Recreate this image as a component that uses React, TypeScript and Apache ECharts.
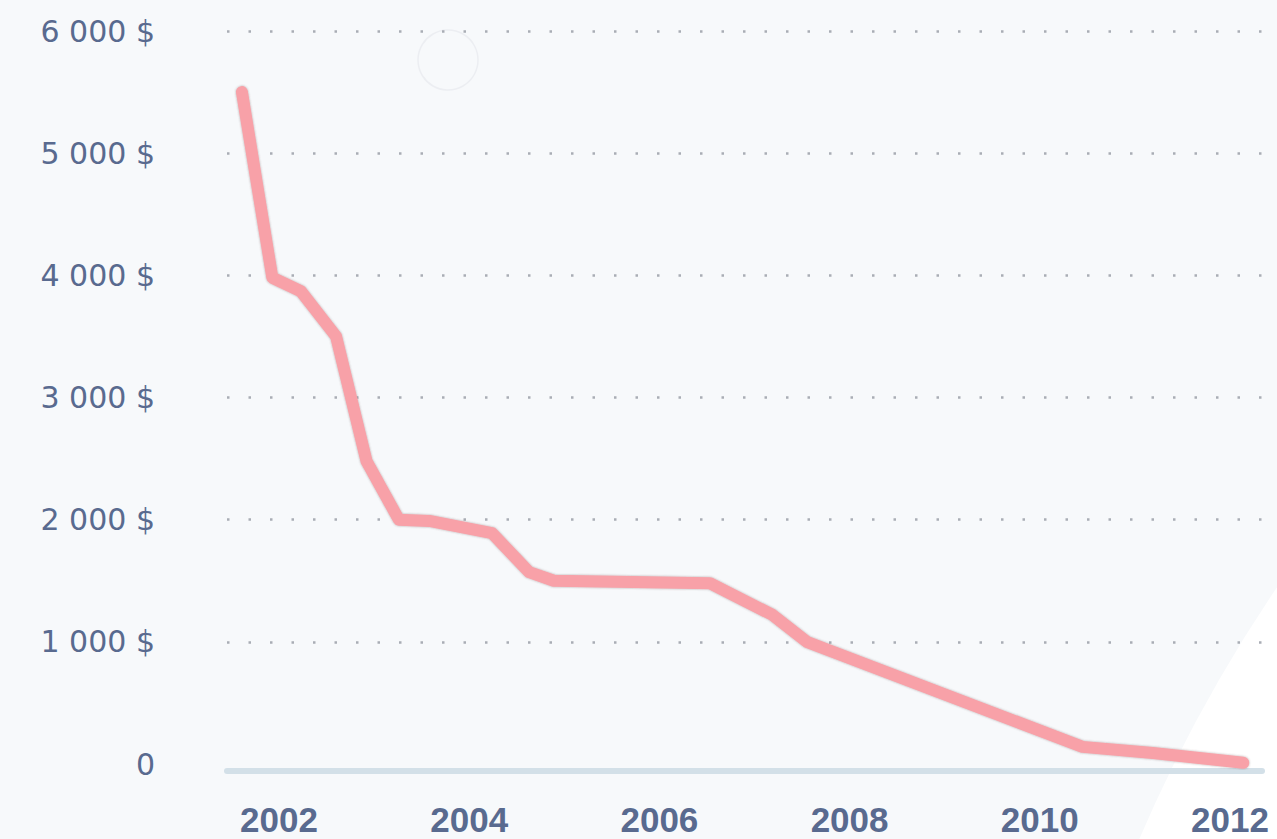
import React, { useEffect, useRef } from "react";
import * as echarts from "echarts";

// Data (fractional year, price in $)
const years = [2001.61, 2001.93, 2002.23, 2002.6, 2002.92, 2003.26, 2003.58, 2004.24, 2004.63, 2004.89, 2006.53, 2007.19, 2007.55, 2010.45, 2011.19, 2012.14];
const prices = [5500, 3980, 3870, 3500, 2480, 2000, 1990, 1890, 1570, 1500, 1480, 1220, 1000, 140, 90, 10];
const xTickYears = [2002, 2004, 2006, 2008, 2010, 2012];
const yTicks = [0, 1000, 2000, 3000, 4000, 5000, 6000];

const TEXT = "#596a8f";

export default function App() {
  const ref = useRef<HTMLDivElement>(null);
  useEffect(() => {
    if (!ref.current) return;
    const chart = echarts.init(ref.current, null, { renderer: "svg" });
    const data = years.map((y, i) => [y, prices[i]]);
    chart.setOption({
      animation: false,
      backgroundColor: "#f7f9fb",
      graphic: [
        {
          type: "circle",
          z: -10,
          silent: true,
          shape: { cx: 2518, cy: 1430, r: 1500 },
          style: { fill: "#ffffff" },
        },
        {
          type: "circle",
          z: -9,
          silent: true,
          shape: { cx: 448, cy: 60, r: 30 },
          style: { fill: "none", stroke: "#eceef2", lineWidth: 1.5 },
        },
      ],
      grid: { left: 227, right: 15, top: 31, bottom: 75, containLabel: false },
      xAxis: {
        type: "value",
        min: 2001.453,
        max: 2012.337,
        offset: 7,
        splitLine: { show: false },
        axisTick: { show: false },
        axisLine: { show: true, onZero: false, lineStyle: { color: "#d3e0e8", width: 6 } },
        axisLabel: {
          customValues: xTickYears,
          formatter: (v: number) => String(Math.round(v)),
          color: TEXT,
          fontFamily: "Liberation Sans",
          fontWeight: "bold",
          fontSize: 35,
          margin: 31,
        },
      },
      yAxis: {
        type: "value",
        min: 0,
        max: 6000,
        interval: 1000,
        axisLine: { show: false },
        axisTick: { show: false },
        splitLine: {
          show: true,
          showMinLine: false,
          lineStyle: { color: "#a9adb5", width: 2.5, type: [2.5, 19] },
        },
        axisLabel: {
          customValues: yTicks,
          formatter: (v: number) => (v === 0 ? "0" : `${v / 1000} 000 $`),
          color: TEXT,
          fontFamily: "DejaVu Sans",
          fontSize: 30,
          margin: 72,
        },
      },
      series: [
        {
          type: "line",
          data,
          showSymbol: false,
          smooth: false,
          lineStyle: {
            color: "#f8a1a8",
            width: 12,
            cap: "round",
            join: "round",
            shadowColor: "rgba(90,70,70,0.45)",
            shadowBlur: 2,
          },
          itemStyle: { color: "#f8a1a8" },
        },
      ],
    });
    return () => chart.dispose();
  }, []);
  return (
    <div
      ref={ref}
      style={{ position: "fixed", left: 0, top: 0, width: 1277, height: 839 }}
    />
  );
}
